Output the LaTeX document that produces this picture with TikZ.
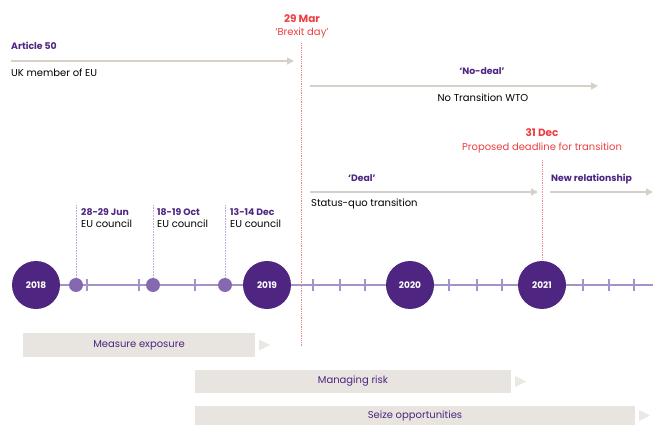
\documentclass[tikz,border=0pt]{standalone}
\usepackage{fontspec}
\setmainfont{Poppins}
\usetikzlibrary{arrows.meta, positioning}

\definecolor{tlpurple}{HTML}{4E2580}
\definecolor{tlaxis}{HTML}{A592C8}
\definecolor{tldot}{HTML}{8468B0}
\definecolor{tlevtline}{HTML}{B9ABD6}
\definecolor{tlred}{HTML}{EE3E42}
\definecolor{tlredline}{HTML}{F2868C}
\definecolor{tlgrey}{HTML}{D6D0C7}
\definecolor{tlbar}{HTML}{E8E4DF}
\definecolor{tltip}{HTML}{EBE8E4}

\newcommand{\phase}[1]{{\color{tlpurple}\fontsize{9.3}{11}\selectfont\bfseries #1}}

\begin{document}
\begin{tikzpicture}[x=1pt, y=-1pt,
  txt/.style={inner sep=0pt, font=\fontsize{10}{12}\selectfont},
  redtxt/.style={txt, text=tlred},
  redhd/.style={txt, text=tlred, font=\fontsize{10.5}{12}\selectfont\bfseries},
  yearnode/.style={circle, fill=tlpurple, minimum size=48pt, inner sep=0pt, text=white, font=\fontsize{9}{10}\selectfont\bfseries},
  evt/.style={circle, fill=tldot, minimum size=14pt, inner sep=0pt},
  axisline/.style={draw=tlaxis, line width=1.4pt},
  tick/.style={draw=tlaxis, line width=1.2pt},
  evtline/.style={draw=tlevtline, line width=0.8pt, dash pattern=on 0.8pt off 0.8pt},
  redline/.style={draw=tlredline, line width=0.9pt, dash pattern=on 0.9pt off 0.9pt},
  spanarrow/.style={draw=tlgrey, line width=1.5pt, -{Triangle[length=7pt,width=7pt]}},
  phasebar/.style={fill=tlbar, minimum height=24pt, inner sep=0pt, text=tlpurple, font=\fontsize{10}{11}\selectfont}]
\useasboundingbox (0,0) rectangle (657,425);

% timeline
\node[yearnode] (y18) at (36,285) {2018};
\node[yearnode] (y19) at (267,285) {2019};
\node[yearnode] (y20) at (410,285) {2020};
\node[yearnode] (y21) at (542,285) {2021};
\coordinate (axend) at (653,285);
\draw[axisline] (y18) -- (y19) -- (y20) -- (y21) -- (axend);
\foreach \tx in {87,139,195,313,340,365,449,477,502,583,609,634}
  \draw[tick] (\tx,279.5) -- (\tx,291);

% EU councils
\node[evt] (jun) at (76,285) {};
\node[evt] (oct) at (153,285) {};
\node[evt] (dec) at (225,285) {};
\coordinate (juntop) at (76,205);
\coordinate (octtop) at (153,205);
\coordinate (dectop) at (225,205);
\draw[evtline] (juntop) -- (jun);
\draw[evtline] (octtop) -- (oct);
\draw[evtline] (dectop) -- (dec);
\node[txt, anchor=base west] (junhd) at (81,216) {\phase{28-29 Jun}};
\node[txt, anchor=base west] (octhd) at (157,216) {\phase{18-19 Oct}};
\node[txt, anchor=base west] (dechd) at (230,216) {\phase{13-14 Dec}};
\node[txt, anchor=base west] (junsub) at (81,228) {EU council};
\node[txt, anchor=base west] (octsub) at (157,228) {EU council};
\node[txt, anchor=base west] (decsub) at (230,228) {EU council};

% Brexit day
\node[redhd, anchor=base] (brexhd) at (302,23) {29 Mar};
\node[redtxt, anchor=base] (brexsub) at (302,36) {`Brexit day'};
\coordinate (brextop) at (301,43);
\coordinate (brexbot) at (301,346);
\draw[redline] (brextop) -- (brexbot);

% end of transition
\node[redhd, anchor=base] (trhd) at (542,137) {31 Dec};
\node[redtxt, anchor=base] (trsub) at (542,151) {Proposed deadline for transition};
\coordinate (trtop) at (542,160);
\draw[redline] (trtop) -- (y21);

% spans
\node[txt, anchor=base west] (art) at (11,50) {\phase{Article 50}};
\node[txt, anchor=base west] (ukmem) at (11,77) {UK member of EU};
\coordinate (artS) at (11,61);
\coordinate (artE) at (294,61);
\draw[spanarrow] (artS) -- (artE);

\node[txt, anchor=base] (nodeal) at (482,75) {\phase{`No-deal'}};
\node[txt, anchor=base] (wto) at (483,102) {No Transition WTO};
\coordinate (ndS) at (310,86);
\coordinate (ndE) at (598,86);
\draw[spanarrow] (ndS) -- (ndE);

\node[txt, anchor=base west] (deal) at (348,182) {\phase{`Deal'}};
\node[txt, anchor=base west] (sq) at (311,207) {Status-quo transition};
\coordinate (dlS) at (310,192);
\coordinate (dlE) at (538,192);
\draw[spanarrow] (dlS) -- (dlE);

\node[txt, anchor=base west] (newrel) at (551,182) {\phase{New relationship}};
\coordinate (nrS) at (550,192);
\coordinate (nrE) at (653,192);
\draw[spanarrow] (nrS) -- (nrE);

% phases
\node[phasebar, minimum width=232pt] (meas) at (139,345) {Measure exposure};
\node[phasebar, minimum width=316pt, minimum height=23pt] (manage) at (353,381.5) {Managing risk};
\node[phasebar, minimum width=440pt, minimum height=20pt] (seize) at (415,415.5) {Seize opportunities};
\foreach \b in {meas,manage,seize}
  \fill[tltip] ([xshift=4pt,yshift=5.5pt]\b.east) -- ++(11,5.5) -- ++(-11,5.5) -- cycle;
\end{tikzpicture}
\end{document}
